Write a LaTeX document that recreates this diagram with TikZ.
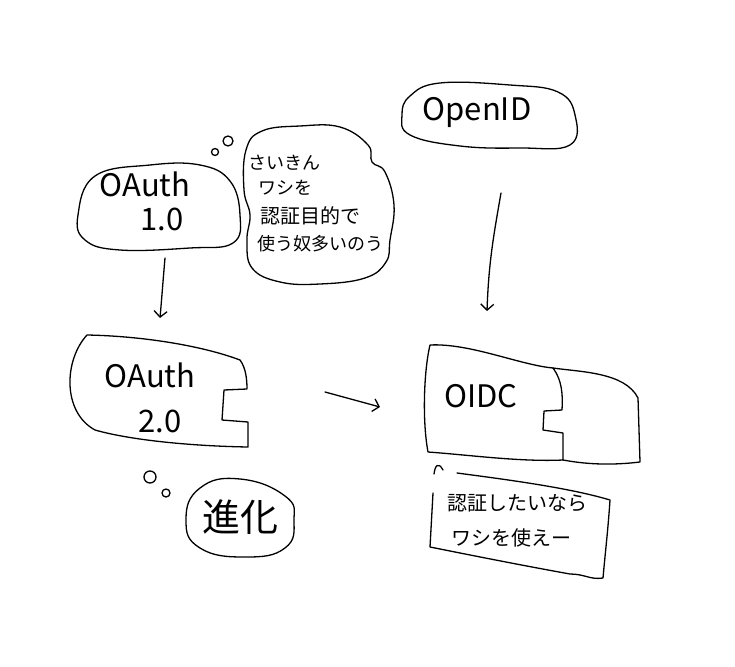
\documentclass[tikz,border=0pt]{standalone}
\usepackage{fontspec}
\newfontfamily\jpfont{Noto Sans CJK JP}
\usepackage{tikz}
\usetikzlibrary{arrows,arrows.meta}
\usepackage{xcolor}

\begin{document}
\begin{tikzpicture}[x=1pt,y=-1pt]
\tikzstyle{every path}=[line width=1.3pt,line cap=round,line join=round]
\tikzstyle{sketch}=[draw=black]
\tikzstyle{bigtext}=[draw=none,inner sep=0pt,font=\jpfont\fontsize{31}{33}\selectfont]
\tikzstyle{smalltext}=[draw=none,inner sep=0pt,anchor=west,font=\jpfont\fontsize{18}{20}\selectfont]
\tikzstyle{boxtext}=[draw=none,inner sep=0pt,font=\jpfont\fontsize{20}{22}\selectfont]
\tikzstyle{flow}=[-{Straight Barb[length=6pt,width=13pt]}]

\useasboundingbox[fill=white] (0,0) rectangle (735,666);

% OAuth 1.0
\draw[sketch] plot[smooth cycle,tension=0.7] coordinates {(78,215) (95,176) (150,165) (200,165) (230,181) (240,215) (233,243) (190,248) (120,250) (85,240)};
\node[bigtext] (oa1) at (145,184) {OAuth};
\node[bigtext] (oa1v) at (162,219) {1.0};

% thought cloud
\draw[sketch] (228,141) circle (5);
\draw[sketch] (215,152) circle (3.5);
\draw[sketch] plot[smooth cycle,tension=0.7] coordinates {(246,150) (262,131) (300,126) (340,127) (368,145) (372,162) (385,172) (394,205) (390,240) (386,262) (365,278) (320,284) (280,282) (252,268) (247,240) (250,215) (244,190)};
\node[smalltext] (c1) at (248,163) {さいきん};
\node[smalltext] (c2) at (258,188) {ワシを};
\node[smalltext,font=\jpfont\fontsize{20}{22}\selectfont] (c3) at (260,216) {認証目的で};
\node[smalltext] (c4) at (257,244) {使う奴多いのう};

% OpenID
\draw[sketch] plot[smooth cycle,tension=0.7] coordinates {(410,96) (440,83) (510,85) (558,92) (575,115) (570,145) (520,148) (460,146) (410,135) (402,115)};
\node[bigtext] (oid) at (477,112) {OpenID};

% OAuth 2.0
\draw[sketch] (87,335) .. controls (140,336) and (200,345) .. (240,360)
  .. controls (246,368) and (247,380) .. (247,389) -- (224,390) -- (222,420) -- (248,422) -- (248,447)
  .. controls (190,446) and (130,440) .. (95,430)
  .. controls (62,412) and (64,360) .. (87,335);
\node[bigtext] (oa2) at (150,375) {OAuth};
\node[bigtext] (oa2v) at (160,421) {2.0};

% OIDC
\draw[sketch] (430,345) .. controls (470,343) and (520,365) .. (553,368)
  .. controls (562,380) and (563,395) .. (562,410) -- (544,411) -- (543,430) -- (563,433) -- (563,460)
  .. controls (520,462) and (470,455) .. (428,452)
  .. controls (422,420) and (424,370) .. (430,345);
\draw[sketch] (553,368) .. controls (580,372) and (625,372) .. (638,398)
  -- (640,462) .. controls (615,465) and (590,465) .. (563,460);
\node[bigtext] (oidc) at (481,396) {OIDC};

% speech box
\draw[sketch] (434,474) .. controls (435,466) and (438,461) .. (443,470);
\draw[sketch] (457,473) .. controls (510,480) and (570,488) .. (610,500)
  .. controls (608,530) and (605,555) .. (603,578)
  .. controls (590,580) and (585,574) .. (570,574)
  .. controls (520,565) and (470,555) .. (430,547)
  -- (433,493);
\node[boxtext] (s1) at (517,503) {認証したいなら};
\node[boxtext] (s2) at (511,538) {ワシを使えー};

% evolution bubble
\draw[sketch] (150,477) circle (6);
\draw[sketch] (166,493) circle (4);
\draw[sketch] plot[smooth cycle,tension=0.8] coordinates {(200,488) (240,479) (285,496) (294,520) (285,548) (245,557) (200,548) (186,520)};
\node[draw=none,inner sep=0pt,font=\jpfont\fontsize{38}{40}\selectfont] (evo) at (240,517) {進化};

% connectors
\coordinate (a1) at (165,258);
\coordinate (a2) at (160,318);
\coordinate (b1) at (501,193);
\coordinate (b2) at (487,311);
\coordinate (m1) at (325,392);
\coordinate (m2) at (380,407);
\draw[flow] (a1) to[out=265,in=85] (a2);
\draw[flow] (b1) to[out=260,in=88] (b2);
\draw[flow] (m1) -- (m2);
\end{tikzpicture}
\end{document}
